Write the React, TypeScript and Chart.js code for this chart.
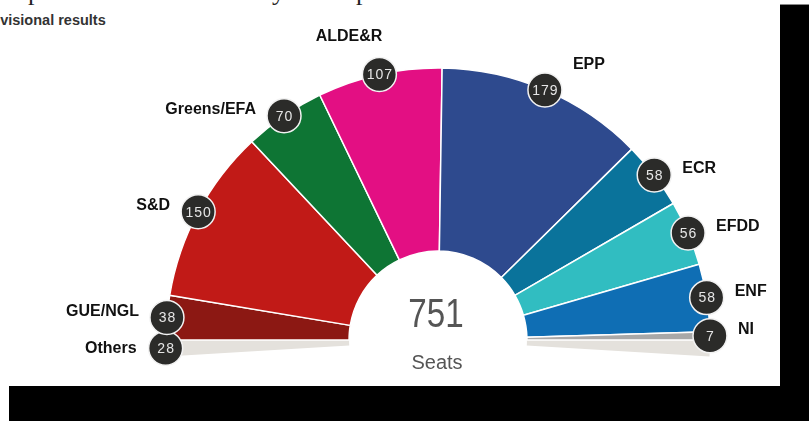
import React, { useEffect, useRef } from "react";
import { Chart, registerables } from "chart.js";

Chart.register(...registerables);

// ---- data ----
const parties = ["GUE/NGL", "S&D", "Greens/EFA", "ALDE&R", "EPP", "ECR", "EFDD", "ENF", "NI"];
const seats = [38, 150, 70, 107, 179, 58, 56, 58, 7];
const partyColors = ["#8c1813", "#c11a17", "#0e7534", "#e30f83", "#2e4a8e", "#0a739b", "#31bdc1", "#0f6eb4", "#a8a8a8"];
const otherName = "Others";
const otherSeats = 28;
const centerCaption = "Seats";
const subtitle = "Provisional results";

const SANS = '"Liberation Sans", Arial, Helvetica, sans-serif';

export default function App() {
  const ref = useRef<HTMLCanvasElement>(null);

  useEffect(() => {
    if (!ref.current) return;
    const FLOOR = (3.5 * Math.PI) / 180;

    const badge = (ctx: CanvasRenderingContext2D, cx: number, cy: number, txt: string) => {
      ctx.save();
      ctx.beginPath();
      ctx.arc(cx, cy, 17, 0, Math.PI * 2);
      ctx.fillStyle = "#2b2b29";
      ctx.fill();
      ctx.lineWidth = 1.5;
      ctx.strokeStyle = "#f2f2f2";
      ctx.stroke();
      ctx.fillStyle = "#e6e6e6";
      ctx.font = `14px ${SANS}`;
      (ctx as any).letterSpacing = "1px";
      ctx.textAlign = "center";
      ctx.textBaseline = "middle";
      ctx.fillText(txt, cx + 0.5, cy + 1);
      ctx.restore();
    };

    const name = (ctx: CanvasRenderingContext2D, x: number, y: number, txt: string, align: CanvasTextAlign) => {
      ctx.save();
      ctx.fillStyle = "#111";
      ctx.font = `bold 16px ${SANS}`;
      ctx.textAlign = align;
      ctx.textBaseline = "middle";
      ctx.fillText(txt, x, y);
      ctx.restore();
    };

    const parliamentPlugin = {
      id: "parliament",
      beforeDatasetsDraw(chart: any) {
        const arcs = chart.getDatasetMeta(0).data;
        if (!arcs.length) return;
        const { x, y, outerRadius: R, innerRadius: r } = arcs[0];
        const ctx: CanvasRenderingContext2D = chart.ctx;
        ctx.save();
        ctx.fillStyle = "#e4e1dc";
        // left floor (below the horizontal)
        ctx.beginPath();
        ctx.arc(x, y, R, Math.PI - FLOOR, Math.PI);
        ctx.arc(x, y, r, Math.PI, Math.PI - FLOOR, true);
        ctx.closePath();
        ctx.fill();
        // right floor
        ctx.beginPath();
        ctx.arc(x, y, R, 0, FLOOR);
        ctx.arc(x, y, r, FLOOR, 0, true);
        ctx.closePath();
        ctx.fill();
        ctx.restore();
      },
      afterDatasetsDraw(chart: any) {
        const arcs = chart.getDatasetMeta(0).data;
        if (!arcs.length) return;
        const ctx: CanvasRenderingContext2D = chart.ctx;
        const { x, y, outerRadius: R } = arcs[0];

        // center text
        const total = seats.reduce((s, v) => s + v, 0) + otherSeats;
        ctx.save();
        ctx.fillStyle = "#555";
        ctx.textAlign = "center";
        ctx.textBaseline = "alphabetic";
        ctx.translate(x - 2, y - 13);
        ctx.scale(0.83, 1);
        ctx.font = `40px ${SANS}`;
        ctx.fillText(String(total), 0, 0);
        ctx.restore();
        ctx.save();
        ctx.fillStyle = "#555";
        ctx.textAlign = "center";
        ctx.textBaseline = "alphabetic";
        ctx.font = `20px ${SANS}`;
        ctx.fillText(centerCaption, x - 1, y + 29);
        ctx.restore();

        // others on the left floor
        const oa = Math.PI - FLOOR / 2;
        const ox = x + R * Math.cos(oa) - 0.5;
        const oy = y + R * Math.sin(oa);
        name(ctx, ox - 29, oy, otherName, "right");
        badge(ctx, ox, oy, String(otherSeats));

        arcs.forEach((arc: any, i: number) => {
          const mid = (arc.startAngle + arc.endAngle) / 2;
          const cx = x + R * Math.cos(mid);
          const cy = y + R * Math.sin(mid);
          const deg = ((mid + Math.PI) * 180) / Math.PI; // 0 = left, 180 = right
          if (deg > 70 && deg < 90) name(ctx, cx + 3, cy - 38, parties[i], "right");
          else if (deg >= 90 && deg < 120) name(ctx, cx + 28, cy - 25, parties[i], "left");
          else if (deg < 90) name(ctx, cx - 28, cy - 6, parties[i], "right");
          else name(ctx, cx + 28, cy - 6, parties[i], "left");
        });
        arcs.forEach((arc: any, i: number) => {
          const mid = (arc.startAngle + arc.endAngle) / 2;
          badge(ctx, x + R * Math.cos(mid), y + R * Math.sin(mid), String(seats[i]));
        });
      },
    };

    const chart = new Chart(ref.current, {
      type: "doughnut",
      data: {
        labels: parties,
        datasets: [
          {
            data: seats,
            backgroundColor: partyColors,
            borderColor: "#ffffff",
            borderWidth: 1.5,
            hoverOffset: 0,
            clip: false,
          } as any,
        ],
      },
      options: {
        responsive: false,
        animation: false,
        rotation: -90,
        circumference: 180,
        radius: 272,
        cutout: "32.7%",
        layout: { padding: { left: 96, top: 22, right: 0, bottom: 0 } },
        plugins: { legend: { display: false }, tooltip: { enabled: false } },
        events: [],
      } as any,
      plugins: [parliamentPlugin],
    });
    return () => chart.destroy();
  }, []);

  const serifFrag: React.CSSProperties = {
    position: "absolute",
    top: -21,
    fontFamily: '"Liberation Serif", "DejaVu Serif", serif',
    fontSize: 26,
    lineHeight: "26px",
    color: "#222",
  };

  return (
    <div style={{ position: "fixed", inset: 0, background: "#fff", overflow: "hidden" }}>
      <span style={{ ...serifFrag, left: 28 }}>p</span>
      <span style={{ ...serifFrag, left: 272 }}>y</span>
      <span style={{ ...serifFrag, left: 356 }}>p</span>
      <div
        style={{
          position: "absolute",
          left: -24,
          top: 12,
          fontFamily: SANS,
          fontWeight: "bold",
          fontSize: 14.5,
          lineHeight: "16px",
          color: "#333",
          whiteSpace: "nowrap",
        }}
      >
        {subtitle}
      </div>
      <canvas
        ref={ref}
        width={780}
        height={386}
        style={{ position: "absolute", left: 0, top: 0, width: 780, height: 386 }}
      />
      <div style={{ position: "absolute", left: 780, top: 4, width: 29, height: 417, background: "#000", borderTop: "1px solid #888" }} />
      <div style={{ position: "absolute", left: 9, top: 386, width: 800, height: 35, background: "#000" }} />
    </div>
  );
}
